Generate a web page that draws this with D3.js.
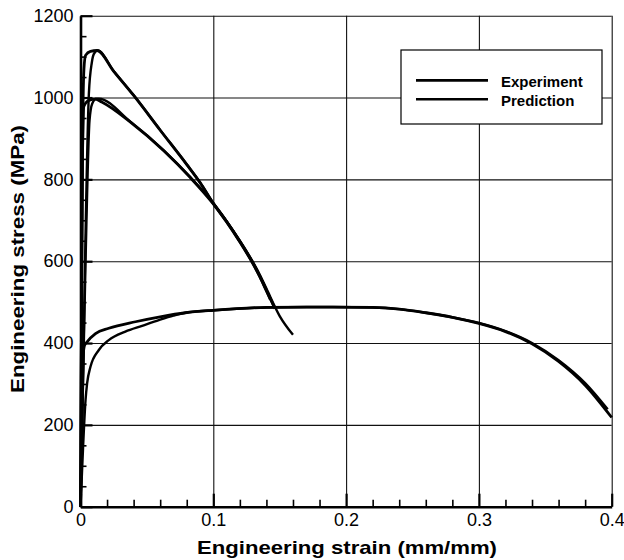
<!DOCTYPE html>
<html>
<head>
<meta charset="utf-8">
<script src="https://cdn.jsdelivr.net/npm/d3@7"></script>
<style>
body { margin: 0; background: #fff; }
text { font-family: "Liberation Sans", Arial, Helvetica, sans-serif; }
</style>
</head>
<body>
<svg id="chart" width="624" height="560"></svg>
<script>
var xTicks = [0, 0.1, 0.2, 0.3, 0.4];
var yTicks = [0, 200, 400, 600, 800, 1000, 1200];
var xMinor = [0.02, 0.04, 0.06, 0.08, 0.12, 0.14, 0.16, 0.18, 0.22, 0.24, 0.26, 0.28, 0.32, 0.34, 0.36, 0.38];
var yMinor = [50, 100, 150, 250, 300, 350, 450, 500, 550, 650, 700, 750, 850, 900, 950, 1050, 1100, 1150];
var legendLabels = ["Experiment", "Prediction"];

// [strain, stress]
// high strength, peak ~1115 MPa
var expA = [[0, 0], [0.0005, 300], [0.001, 600], [0.0015, 850], [0.002, 1000], [0.0026, 1070], [0.0038, 1103],
  [0.0075, 1113], [0.0125, 1115], [0.025, 1064], [0.04, 1005], [0.06, 920], [0.08, 836], [0.09, 792],
  [0.1, 741], [0.11, 697], [0.12, 648], [0.13, 594], [0.135, 563], [0.143, 506]];
var predA = [[0, 0], [0.002, 330], [0.004, 700], [0.0063, 1009], [0.0085, 1085], [0.01, 1106], [0.0128, 1115],
  [0.025, 1065], [0.04, 1006], [0.06, 921], [0.08, 837], [0.09, 793], [0.1, 742], [0.11, 698],
  [0.12, 649], [0.13, 596], [0.135, 565], [0.1455, 490]];
// high strength, peak ~1000 MPa
var expB = [[0, 0], [0.0005, 300], [0.001, 600], [0.0015, 850], [0.002, 950], [0.0025, 978], [0.0063, 993],
  [0.0113, 996], [0.016, 989], [0.0376, 940], [0.0627, 870], [0.0825, 805], [0.1, 740], [0.11, 696],
  [0.12, 647], [0.13, 593], [0.135, 562], [0.14, 528], [0.1465, 484]];
var predB = [[0, 0], [0.002, 320], [0.0038, 600], [0.0068, 944], [0.0088, 985], [0.012, 997], [0.0138, 997],
  [0.0376, 941], [0.0627, 871], [0.0825, 806], [0.1, 742], [0.11, 698], [0.12, 650], [0.13, 597],
  [0.135, 567], [0.14, 533], [0.15, 466], [0.16, 420]];
// low strength, peak ~488 MPa
var expC = [[0, 0], [0.0008, 150], [0.0015, 300], [0.002, 368], [0.003, 394], [0.005, 403], [0.0113, 423],
  [0.0213, 436], [0.0414, 452], [0.06, 464], [0.079, 474], [0.1, 480], [0.14, 487], [0.18, 488], [0.22, 487],
  [0.24, 483], [0.26, 474], [0.28, 463], [0.3, 448], [0.32, 428], [0.34, 398], [0.36, 355], [0.38, 297], [0.4, 218]];
var predC = [[0, 0], [0.002, 150], [0.0038, 261], [0.005, 302], [0.0075, 342], [0.0138, 383], [0.0213, 407],
  [0.0338, 428], [0.0464, 442], [0.059, 456], [0.07, 467], [0.079, 474], [0.1, 480], [0.14, 487], [0.18, 488],
  [0.22, 487], [0.24, 483], [0.26, 474], [0.28, 463], [0.3, 449], [0.32, 429], [0.34, 400], [0.36, 358],
  [0.38, 302], [0.397, 238]];

var svg = d3.select('#chart');
var margin = {top: 15.7, right: 12.3, bottom: 53.3, left: 80.5};
var width = 624 - margin.left - margin.right;
var height = 560 - margin.top - margin.bottom;

var x = d3.scaleLinear().domain([0, 0.4]).range([0, width]);
var y = d3.scaleLinear().domain([0, 1200]).range([height, 0]);

var g = svg.append('g').attr('transform', 'translate(' + margin.left + ',' + margin.top + ')');

// grid, incl. top and right border
g.append('g')
  .attr('class', 'grid')
  .call(d3.axisLeft(y).tickValues(yTicks.slice(1)).tickSize(-width).tickFormat(''))
  .call(function(s){ s.select('.domain').remove(); });
g.append('g')
  .attr('class', 'grid')
  .attr('transform', 'translate(0,' + height + ')')
  .call(d3.axisBottom(x).tickValues(xTicks.slice(1)).tickSize(-height).tickFormat(''))
  .call(function(s){ s.select('.domain').remove(); });
g.selectAll('.grid line').style('stroke', '#111').style('stroke-width', '1.1px');

// minor ticks, inward
g.append('g')
  .attr('class', 'minor')
  .call(d3.axisLeft(y).tickValues(yMinor).tickSizeInner(-6).tickSizeOuter(0).tickFormat(''));
g.append('g')
  .attr('class', 'minor')
  .attr('transform', 'translate(0,' + height + ')')
  .call(d3.axisBottom(x).tickValues(xMinor).tickSizeInner(-7).tickSizeOuter(0).tickFormat(''));
g.selectAll('.minor .domain').remove();
g.selectAll('.minor line').style('stroke', '#000').style('stroke-width', '1.6px');

// main axes
g.append('g')
  .attr('class', 'axis')
  .call(d3.axisLeft(y).tickValues(yTicks).tickSizeInner(-12).tickSizeOuter(0).tickPadding(7).tickFormat(d3.format('d')));
g.append('g')
  .attr('class', 'axis')
  .attr('transform', 'translate(0,' + height + ')')
  .call(d3.axisBottom(x).tickValues(xTicks).tickSizeInner(-13).tickSizeOuter(0).tickPadding(7).tickFormat(d3.format('')));
g.selectAll('.axis .domain').style('stroke', '#000').style('stroke-width', '2.6px');
g.selectAll('.axis line').style('stroke', '#000').style('stroke-width', '2.2px');
g.selectAll('.axis text').style('font-size', '18px').style('fill', '#000');

// curves
var line = d3.line()
  .x(function(d){ return x(d[0]); })
  .y(function(d){ return y(d[1]); })
  .curve(d3.curveMonotoneX);

var curves = [
  {data: expA, w: 2.8}, {data: predA, w: 2.4},
  {data: expB, w: 2.8}, {data: predB, w: 2.4},
  {data: expC, w: 2.8}, {data: predC, w: 2.4}
];
g.selectAll('.curve')
  .data(curves)
  .enter().append('path')
  .attr('class', 'curve')
  .attr('d', function(d){ return line(d.data); })
  .style('fill', 'none')
  .style('stroke', '#000')
  .style('stroke-linejoin', 'round')
  .style('stroke-width', function(d){ return d.w + 'px'; });

// legend
var legend = svg.append('g').attr('class', 'legend');
legend.append('rect')
  .attr('x', 401).attr('y', 50).attr('width', 201).attr('height', 74)
  .style('fill', '#fff').style('stroke', '#000').style('stroke-width', '1.2px');
legend.selectAll('.lg-line')
  .data(legendLabels)
  .enter().append('line')
  .attr('x1', 416).attr('x2', 488)
  .attr('y1', function(d, i){ return 80.3 + i * 19; })
  .attr('y2', function(d, i){ return 80.3 + i * 19; })
  .style('stroke', '#000')
  .style('stroke-width', function(d, i){ return i === 0 ? '2.8px' : '2.4px'; });
legend.selectAll('.lg-text')
  .data(legendLabels)
  .enter().append('text')
  .attr('x', 501)
  .attr('y', function(d, i){ return 87 + i * 19; })
  .style('font-size', '15px')
  .style('font-weight', 'bold')
  .text(function(d){ return d; });

// axis titles
svg.append('text')
  .attr('x', 197).attr('y', 554)
  .attr('textLength', 300).attr('lengthAdjust', 'spacingAndGlyphs')
  .style('font-size', '19px').style('font-weight', 'bold')
  .text('Engineering strain (mm/mm)');
svg.append('text')
  .attr('transform', 'translate(24,259) rotate(-90)')
  .attr('text-anchor', 'middle')
  .attr('textLength', 268).attr('lengthAdjust', 'spacingAndGlyphs')
  .style('font-size', '19px').style('font-weight', 'bold')
  .text('Engineering stress (MPa)');
</script>
</body>
</html>
